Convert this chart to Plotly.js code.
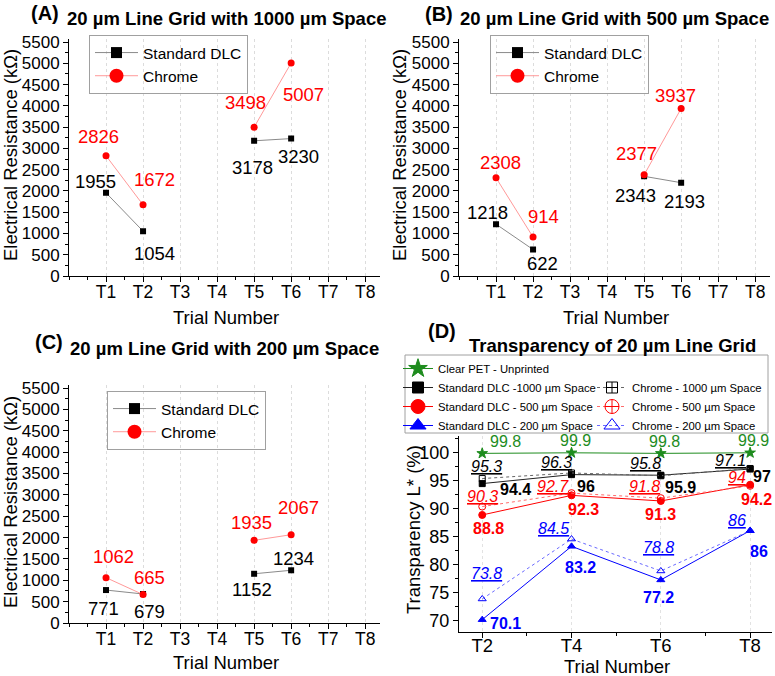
<!DOCTYPE html>
<html><head><meta charset="utf-8">
<script src="https://cdn.plot.ly/plotly-3.0.1.min.js"></script>
<style>html,body{margin:0;padding:0;background:#fff}#chart{width:775px;height:676px}</style>
</head><body><div id="chart"></div>
<script>
// ---------- DATA ----------
const trials = ["T1","T2","T3","T4","T5","T6","T7","T8"];
const measuredTrials = ["T1","T2","T3","T4","T5","T6"];
// (A) 1000 µm space
const dlcA = [1955, 1054, null, null, 3178, 3230];
const chromeA = [2826, 1672, null, null, 3498, 5007];
// (B) 500 µm space
const dlcB = [1218, 622, null, null, 2343, 2193];
const chromeB = [2308, 914, null, null, 2377, 3937];
// (C) 200 µm space
const dlcC = [771, 679, null, null, 1152, 1234];
const chromeC = [1062, 665, null, null, 1935, 2067];
// (D) transparency
const trialsD = ["T2","T4","T6","T8"];
const clearPET = [99.8, 99.9, 99.8, 99.9];
const dlc1000 = [94.4, 96, 95.9, 97];
const dlc500 = [88.8, 92.3, 91.3, 94.2];
const dlc200 = [70.1, 83.2, 77.2, 86];
const chrome1000 = [95.3, 96.3, 95.8, 97.1];
const chrome500 = [90.3, 92.7, 91.8, 94];
const chrome200 = [73.8, 84.5, 78.8, 86];

// ---------- LABEL OFFSETS (screen px: dx right, dy down) ----------
const offDlcA = [[-11,-11],[11,22],null,null,[-2,27],[7,18]];
const offChrA = [[-8,-19],[11,-25],null,null,[-9,-25],[12,32]];
const offDlcB = [[-9,-12],[9,14],null,null,[-9,19],[3,19]];
const offChrB = [[4,-15],[10,-21],null,null,[-8,-21],[-6,-13]];
const offDlcC = [[-3,18],[6,18],null,null,[-2,16],[2,-12]];
const offChrC = [[7,-21],[6,-17],null,null,[-3,-18],[7,-27]];
const offPET  = [[23,-12],[4,-12],[4,-12],[3,-12]];
const offD1000 = [[33,6],[14,12],[20,12],[12,7]];
const offC1000 = [[4,-12],[-15,-10],[-15,-12],[-20,-8]];
const offD500 = [[6,14],[12,14],[0,14],[6,15]];
const offC500 = [[0,-10],[-19,-7],[-16,-12],[-13,-8]];
const offD200 = [[23,4],[9,21],[-2,18],[9,21]];
const offC200 = [[4,-25],[-18,-11],[-2,-23],[-13,-10]];

// ---------- STYLE ----------
const FONT = "Liberation Sans, Arial, Helvetica, sans-serif";
const W = 775, H = 676;
const px = v => v / W;
const py = v => 1 - v / H;
const trialNum = t => parseInt(t.slice(1), 10);
const RED = '#ff0000', BLUE = '#0000ff', GREEN = '#1e8c1e';

function xAxisRes(domain, anchor) {
  return {domain, anchor, range:[0, 8.4], tickmode:'array',
    tickvals: trials.map(trialNum), ticktext: trials,
    ticks:'outside', ticklen:5, tickcolor:'#000', tickwidth:1, ticklabelstandoff:-5,
    showline:true, linecolor:'#000', linewidth:1,
    showgrid:true, gridcolor:'#dcdcdc', griddash:'dot', gridwidth:1, zeroline:false,
    tickfont:{family:FONT, size:17.5, color:'#000'},
    minor:{dtick:0.5, tick0:0, ticks:'outside', ticklen:3, tickcolor:'#000', showgrid:false},
    fixedrange:true};
}
function yAxisRes(domain, anchor) {
  return {domain, anchor, range:[0, 5580], tickmode:'linear', tick0:0, dtick:500,
    ticks:'outside', ticklen:5, tickcolor:'#000', tickwidth:1,
    showline:true, linecolor:'#000', linewidth:1, showgrid:false, zeroline:false,
    tickfont:{family:FONT, size:17, color:'#000'},
    minor:{dtick:250, tick0:0, ticks:'outside', ticklen:3, tickcolor:'#000', showgrid:false},
    fixedrange:true};
}

const traces = [];
const annotations = [];

function addResPanel(xa, ya, legendId, dlc, chrome, offD, offC) {
  const xs = measuredTrials.map(trialNum);
  traces.push({x: xs, y: dlc, xaxis: xa, yaxis: ya, showlegend:false,
    name:'Standard DLC', mode:'lines+markers', connectgaps:false,
    line:{color:'#8a8a8a', width:1}, marker:{symbol:'square', size:6, color:'#000'}});
  traces.push({x: xs, y: chrome, xaxis: xa, yaxis: ya, showlegend:false,
    name:'Chrome', mode:'lines+markers', connectgaps:false,
    line:{color:'#ff9999', width:1}, marker:{symbol:'circle', size:7, color:RED}});
  // legend keys (larger symbols, as in the original legend)
  traces.push({x:[null], y:[null], xaxis: xa, yaxis: ya, legend: legendId, name:'Standard DLC',
    mode:'lines+markers', line:{color:'#8a8a8a', width:1}, marker:{symbol:'square', size:11, color:'#000'}});
  traces.push({x:[null], y:[null], xaxis: xa, yaxis: ya, legend: legendId, name:'Chrome',
    mode:'lines+markers', line:{color:'#ff9999', width:1}, marker:{symbol:'circle', size:14, color:RED}});
  const addLabels = (vals, offs, color) => vals.forEach((v, i) => {
    if (v === null) return;
    annotations.push({x: xs[i], y: v, xref: xa, yref: ya, text: String(v), showarrow:false,
      xshift: offs[i][0], yshift: -offs[i][1], font:{family:FONT, size:18.5, color}});
  });
  addLabels(dlc, offD, '#000');
  addLabels(chrome, offC, RED);
}

addResPanel('x', 'y', 'legend', dlcA, chromeA, offDlcA, offChrA);
addResPanel('x2', 'y2', 'legend2', dlcB, chromeB, offDlcB, offChrB);
addResPanel('x3', 'y3', 'legend3', dlcC, chromeC, offDlcC, offChrC);

// Panel D
const xsD = trialsD.map(trialNum);
const dSeries = [
  {name:'Clear PET - Unprinted', y: clearPET, legend:'legend4', color: GREEN, lineColor: GREEN, dash:'solid', symbol:'star', size:8, lsize:14, offs: offPET, style:'normal'},
  {name:'Standard DLC -1000 µm Space', y: dlc1000, legend:'legend4', color:'#000', lineColor:'#222', dash:'solid', symbol:'square', size:6, lsize:11, offs: offD1000, style:'bold'},
  {name:'Standard DLC - 500 µm Space', y: dlc500, legend:'legend4', color: RED, lineColor: RED, dash:'solid', symbol:'circle', size:7, lsize:14, offs: offD500, style:'bold'},
  {name:'Standard DLC - 200 µm Space', y: dlc200, legend:'legend4', color: BLUE, lineColor: BLUE, dash:'solid', symbol:'triangle-up', size:7, lsize:14, offs: offD200, style:'bold'},
  {name:'Chrome - 1000 µm Space', y: chrome1000, legend:'legend5', color:'#000', lineColor:'#666', dash:'3px,3px', symbol:'square-open', lsymbol:'square-cross-open', size:6, lsize:11, offs: offC1000, style:'italic'},
  {name:'Chrome - 500 µm Space', y: chrome500, legend:'legend5', color: RED, lineColor:'#ff6b6b', dash:'3px,3px', symbol:'circle-open', lsymbol:'circle-cross-open', size:7, lsize:14, offs: offC500, style:'italic'},
  {name:'Chrome - 200 µm Space', y: chrome200, legend:'legend5', color: BLUE, lineColor:'#6a6aff', dash:'3px,3px', symbol:'triangle-up-open', lsymbol:'triangle-up-open', size:7, lsize:14, offs: offC200, style:'italic'}
];
dSeries.forEach(s => {
  traces.push({x: xsD, y: s.y, xaxis:'x4', yaxis:'y4', showlegend:false, name: s.name,
    mode:'lines+markers', line:{color: s.lineColor, width:1, dash: s.dash},
    marker:{symbol: s.symbol, size: s.size, color: s.color, line:{color: s.color, width:1}}});
  traces.push({x:[null], y:[null], xaxis:'x4', yaxis:'y4', legend: s.legend, name: s.name,
    mode:'lines+markers', line:{color: s.lineColor, width:1, dash: s.dash},
    marker:{symbol: s.lsymbol || s.symbol, size: s.lsize, color: s.color, line:{color: s.color, width:1}}});
  s.y.forEach((v, i) => {
    let t = String(v);
    if (s.style === 'bold') t = '<b>' + t + '</b>';
    if (s.style === 'italic') t = '<i><u>' + t + '</u></i>';
    annotations.push({x: xsD[i], y: v, xref:'x4', yref:'y4', text: t, showarrow:false,
      xshift: s.offs[i][0], yshift: -s.offs[i][1], font:{family:FONT, size:16, color: s.color}});
  });
});

// Titles and axis titles
const titleFont = {family:FONT, size:18.5, color:'#000'};
function paperText(x, y, text, font, opts) {
  annotations.push(Object.assign({x: px(x), y: py(y), xref:'paper', yref:'paper', text, showarrow:false,
    font, xanchor:'center', yanchor:'middle'}, opts || {}));
}
const tagFont = {family:FONT, size:20, color:'#000'};
paperText(45, 13, '<b>(A)</b>', tagFont);
paperText(65, 18, '<b>20 µm Line Grid with 1000 µm Space</b>', titleFont, {xanchor:'left'});
paperText(439, 14, '<b>(B)</b>', tagFont);
paperText(458, 18, '<b>20 µm Line Grid with 500 µm Space</b>', titleFont, {xanchor:'left'});
paperText(49, 342, '<b>(C)</b>', tagFont);
paperText(68, 348, '<b>20 µm Line Grid with 200 µm Space</b>', titleFont, {xanchor:'left'});
paperText(442, 331, '<b>(D)</b>', tagFont);
paperText(467, 345, '<b>Transparency of 20 µm Line Grid</b>', titleFont, {xanchor:'left'});

const axFont = {family:FONT, size:18.5, color:'#000'};
paperText(10, 155, 'Electrical Resistance (kΩ)', axFont, {textangle:-90});
paperText(399, 155, 'Electrical Resistance (kΩ)', axFont, {textangle:-90});
paperText(10, 502, 'Electrical Resistance (kΩ)', axFont, {textangle:-90});
paperText(413, 530, 'Transparency L* (%)', axFont, {textangle:-90});
paperText(226, 317, 'Trial Number', axFont);
paperText(616, 317, 'Trial Number', axFont);
paperText(226, 662, 'Trial Number', axFont);
paperText(617, 666, 'Trial Number', axFont);

const legRes = (x, y) => ({x: px(x), y: py(y), xanchor:'left', yanchor:'top',
  bgcolor:'rgba(255,255,255,0)', bordercolor:'#a0a0a0', borderwidth:1,
  font:{family:FONT, size:15.5, color:'#000'}, itemsizing:'trace', itemwidth:43,
  traceorder:'normal', itemclick:false, itemdoubleclick:false});
const legD = (x, y) => ({x: px(x), y: py(y), xanchor:'left', yanchor:'top',
  bgcolor:'rgba(255,255,255,0)', borderwidth:0,
  font:{family:FONT, size:11.3, color:'#000'}, itemsizing:'trace', itemwidth:30,
  traceorder:'normal', itemclick:false, itemdoubleclick:false});

const layout = {
  width: W, height: H, margin:{l:0, r:0, t:0, b:0},
  paper_bgcolor:'#fff', plot_bgcolor:'#fff', showlegend:true,
  xaxis: xAxisRes([px(69), px(380)], 'y'),
  yaxis: yAxisRes([py(276), py(38.6)], 'x'),
  xaxis2: xAxisRes([px(459), px(770)], 'y2'),
  yaxis2: yAxisRes([py(276), py(38.6)], 'x2'),
  xaxis3: xAxisRes([px(69), px(380)], 'y3'),
  yaxis3: yAxisRes([py(623), py(384.6)], 'x3'),
  xaxis4: {domain:[px(459), px(772)], anchor:'y4', range:[1.48, 8.49], tickmode:'array',
    tickvals: xsD, ticktext: trialsD, ticks:'outside', ticklen:5, tickcolor:'#000', ticklabelstandoff:-8,
    showline:true, linecolor:'#000', linewidth:1, showgrid:true, gridcolor:'#e2e2e2', griddash:'dot',
    zeroline:false, tickfont:{family:FONT, size:18.5, color:'#000'},
    minor:{dtick:1, tick0:0, ticks:'outside', ticklen:3, tickcolor:'#000', showgrid:false}, fixedrange:true},
  yaxis4: {domain:[py(632), py(436)], anchor:'x4', range:[67.9, 102.9], tickmode:'linear', tick0:0, dtick:5,
    ticks:'outside', ticklen:5, tickcolor:'#000', showline:true, linecolor:'#000', linewidth:1,
    showgrid:false, zeroline:false, tickfont:{family:FONT, size:18, color:'#000'},
    minor:{dtick:2.5, tick0:0, ticks:'outside', ticklen:3, tickcolor:'#000', showgrid:false}, fixedrange:true},
  legend: legRes(89, 35),
  legend2: legRes(490, 35),
  legend3: legRes(107, 391),
  legend4: legD(398, 354),
  legend5: legD(592, 373),
  shapes: [{type:'rect', xref:'paper', yref:'paper', x0: px(405), x1: px(768), y0: py(433), y1: py(355),
    line:{color:'#a0a0a0', width:1}, fillcolor:'rgba(0,0,0,0)'}],
  annotations
};

Plotly.newPlot('chart', traces, layout, {displayModeBar:false, staticPlot:true});
</script>
</body></html>
